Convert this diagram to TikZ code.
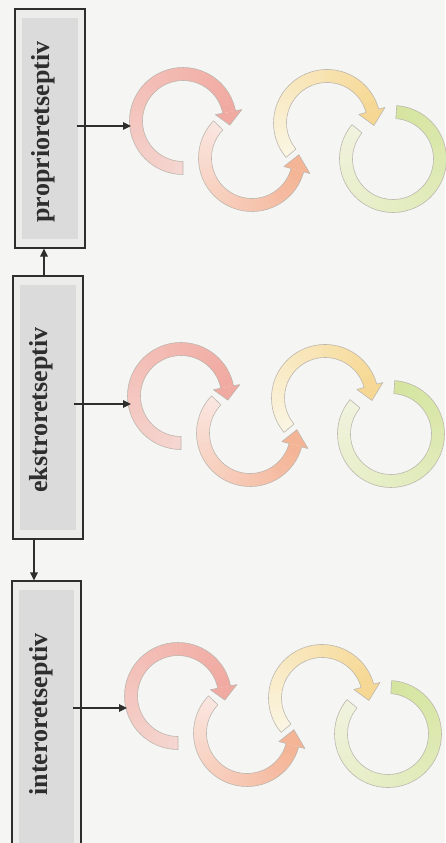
\documentclass[tikz,border=0pt]{standalone}
\usepackage{fontspec}
\setmainfont{Liberation Serif}
\usetikzlibrary{arrows.meta}
\definecolor{bg}{HTML}{F5F5F3}
\definecolor{boxout}{HTML}{ECECEB}
\definecolor{boxin}{HTML}{DBDBDB}
\definecolor{ink}{HTML}{2E2E2E}
\definecolor{ringedge}{HTML}{BDB7AF}
\definecolor{rAa}{HTML}{F5D6D0}\definecolor{rAb}{HTML}{F1AAA1}
\definecolor{rBa}{HTML}{FAE6E0}\definecolor{rBb}{HTML}{F4B496}
\definecolor{rCa}{HTML}{FAF5E2}\definecolor{rCb}{HTML}{F6D894}
\definecolor{rDa}{HTML}{F1F3DE}\definecolor{rDb}{HTML}{D5E5A0}
\newcommand{\RIN}{40.5pt}
\newcommand{\ROUT}{53.5pt}
\newcommand{\RMID}{47pt}
\newcommand{\WIN}{33pt}
\newcommand{\WOUT}{60pt}
% gradient body: cx cy start end colA colB
\newcommand{\ringbody}[6]{%
  \begin{scope}[shift={(#1,#2)}]
    \foreach \k in {0,...,39}{%
      \pgfmathsetmacro{\ta}{#3+(#4-#3)*max(\k-0.25,0)/40}%
      \pgfmathsetmacro{\tb}{#3+(#4-#3)*(\k+1)/40}%
      \pgfmathtruncatemacro{\pc}{100-100*\k/39}%
      \fill[#5!\pc!#6] (\ta:\RIN) -- (\ta:\ROUT) arc[start angle=\ta,end angle=\tb,radius=\ROUT] -- (\tb:\RIN) arc[start angle=\tb,end angle=\ta,radius=\RIN] -- cycle;
    }
  \end{scope}}
% ring with arrowhead: cx cy start end tip colA colB
\newcommand{\ringarrow}[7]{%
  \ringbody{#1}{#2}{#3}{#4}{#6}{#7}%
  \begin{scope}[shift={(#1,#2)}]
    \fill[#7] (#4:\RIN) -- (#4:\WIN) -- (#5:\RMID) -- (#4:\WOUT) -- (#4:\ROUT) -- cycle;
    \draw[ringline] (#3:\ROUT) arc[start angle=#3,end angle=#4,radius=\ROUT] -- (#4:\WOUT) -- (#5:\RMID) -- (#4:\WIN) -- (#4:\RIN) arc[start angle=#4,end angle=#3,radius=\RIN] -- cycle;
  \end{scope}}
% ring without arrowhead: cx cy start end colA colB
\newcommand{\ringplain}[6]{%
  \ringbody{#1}{#2}{#3}{#4}{#5}{#6}%
  \begin{scope}[shift={(#1,#2)}]
    \draw[ringline] (#3:\ROUT) arc[start angle=#3,end angle=#4,radius=\ROUT] -- (#4:\RIN) arc[start angle=#4,end angle=#3,radius=\RIN] -- cycle;
  \end{scope}}
\newcommand{\cluster}{%
  \ringarrow{183}{-121}{270}{11}{-5}{rAa}{rAb}%
  \ringarrow{252}{-158}{136}{345}{364}{rBa}{rBb}%
  \ringarrow{327}{-123}{220}{15}{-3}{rCa}{rCb}%
  \ringplain{393}{-159}{140}{446}{rDa}{rDb}}
\begin{document}
\begin{tikzpicture}[x=1pt,y=1pt,
  ringline/.style={draw=ringedge,line width=0.6pt,line join=round},
  box/.style={draw=ink,line width=1.1pt,fill=boxout,
    path picture={\fill[boxin] ([shift={(7pt,9pt)}]path picture bounding box.south west) rectangle ([shift={(-7pt,-9pt)}]path picture bounding box.north east);}},
  lbl/.style={rotate=90,anchor=base,text=ink,font=\fontsize{26}{30}\selectfont\bfseries},
  conn/.style={draw=ink,line width=1.1pt,-{Triangle[length=8pt,width=7.5pt]}}]
\useasboundingbox (0,0) rectangle (445,-843);
\fill[bg] (0,0) rectangle (445,-843);

% boxes
\node[box,minimum width=70pt,minimum height=239pt] (pbox) at (50,-128.5) {};
\node[box,minimum width=70pt,minimum height=263pt] (ebox) at (48,-407.5) {};
\node[box,minimum width=69pt,minimum height=275pt] (ibox) at (46.5,-718.5) {};
\node[lbl] (ptext) at (49,-132) {proprioretseptiv};
\node[lbl] (etext) at (47,-410) {ekstroretseptiv};
\node[lbl] (itext) at (47,-714.5) {interoretseptiv};

% ring clusters
\begin{scope}\cluster\end{scope}
\begin{scope}[shift={(-2,-275)}]\cluster\end{scope}
\begin{scope}[shift={(-5,-575)}]\cluster\end{scope}

% connector targets
\coordinate (p1) at (131,-126);
\coordinate (e1) at (131,-404);
\coordinate (i1) at (127,-708);

% connectors
\draw[conn] ([xshift=-4pt]ebox.north) -- ([xshift=-4pt]ebox.north |- pbox.south);
\draw[conn] ([xshift=-14pt]ebox.south) -- ([xshift=-14pt]ebox.south |- ibox.north);
\draw[conn] ([xshift=-9pt]pbox.east |- p1) -- (p1);
\draw[conn] ([xshift=-10pt]ebox.east |- e1) -- (e1);
\draw[conn] ([xshift=-9pt]ibox.east |- i1) -- (i1);
\end{tikzpicture}
\end{document}
